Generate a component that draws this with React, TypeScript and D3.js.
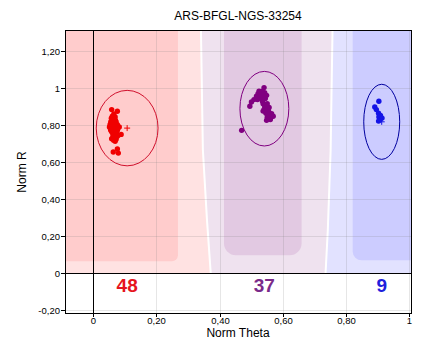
import React, { useEffect, useRef } from "react";
import * as d3 from "d3";

const title = "ARS-BFGL-NGS-33254";
const xLabel = "Norm Theta";
const yLabel = "Norm R";
const xTicks = [0, 0.2, 0.4, 0.6, 0.8, 1];
const yTicks = [-0.2, 0, 0.2, 0.4, 0.6, 0.8, 1, 1.2];

// samples as [theta, R]
const aaPoints: [number, number][] = [
  [0.058, 0.885], [0.076, 0.876], [0.060, 0.849], [0.066, 0.831], [0.055, 0.818],
  [0.072, 0.818], [0.053, 0.805], [0.063, 0.804], [0.076, 0.804], [0.082, 0.791],
  [0.051, 0.791], [0.061, 0.787], [0.071, 0.787], [0.055, 0.773], [0.065, 0.773],
  [0.076, 0.773], [0.061, 0.758], [0.071, 0.758], [0.088, 0.751], [0.079, 0.746],
  [0.058, 0.728], [0.069, 0.714], [0.064, 0.720], [0.063, 0.656], [0.076, 0.672],
  [0.079, 0.650], [0.057, 0.838], [0.064, 0.842], [0.070, 0.826], [0.059, 0.812],
  [0.068, 0.810], [0.074, 0.797], [0.056, 0.798], [0.066, 0.796], [0.060, 0.780],
  [0.069, 0.778], [0.073, 0.765], [0.058, 0.765], [0.066, 0.752], [0.075, 0.740],
  [0.062, 0.742], [0.067, 0.733], [0.072, 0.725], [0.054, 0.783], [0.078, 0.785],
  [0.062, 0.825], [0.069, 0.845], [0.065, 0.862],
];
const abPoints: [number, number][] = [
  [0.541, 1.004], [0.525, 0.985], [0.533, 0.971], [0.522, 0.971], [0.543, 0.977],
  [0.528, 0.957], [0.540, 0.957], [0.549, 0.962], [0.517, 0.957], [0.509, 0.939],
  [0.501, 0.926], [0.496, 0.903], [0.538, 0.917], [0.551, 0.917], [0.543, 0.899],
  [0.554, 0.885], [0.538, 0.877], [0.547, 0.866], [0.565, 0.863], [0.559, 0.854],
  [0.570, 0.849], [0.551, 0.842], [0.561, 0.831], [0.549, 0.827], [0.470, 0.773],
  [0.535, 0.985], [0.530, 0.945], [0.545, 0.945], [0.520, 0.940], [0.536, 0.930],
  [0.548, 0.905], [0.557, 0.897], [0.545, 0.885], [0.556, 0.872], [0.562, 0.845],
  [0.553, 0.855], [0.530, 0.963],
];
const bbPoints: [number, number][] = [
  [0.905, 0.930], [0.892, 0.899], [0.897, 0.885], [0.904, 0.866], [0.910, 0.854],
  [0.905, 0.845], [0.909, 0.831], [0.915, 0.839], [0.904, 0.823],
];

const clusterCounts = [48, 37, 9];
const clusterTheta = [0.107, 0.542, 0.914];
const clusterR = [0.785, 0.89, 0.819];
const clusterThetaSpread = [0.098, 0.0775, 0.057];
const clusterRSpread = [0.204, 0.2016, 0.203];

// genotype region borders, top to bottom, [theta, R]
const splitAaAb: [number, number][] = [[0.341, 1.31], [0.347, 0.67], [0.36, 0.29], [0.372, 0]];
const splitAbBb: [number, number][] = [[0.758, 1.31], [0.752, 0.66], [0.743, 0.23], [0.736, 0]];

// dense part of each region
const coreTheta0 = [-0.2, 0.414, 0.822];
const coreTheta1 = [0.268, 0.66, 1.2];
const coreRBottom = [0.065, 0.097, 0.07];

const pointColors = ["#f00000", "#800080", "#1414e6"];
const ellipseColors = ["#d0102c", "#800080", "#0000a0"];
const countColors = ["#e6141e", "#7a2a8a", "#2020dc"];
const outerFills = ["#ffe2e2", "#efe2ef", "#e2e2ff"];
const coreFills = ["#ffcccc", "#e2c9e2", "#ccccff"];
const coreCorner = [6, 12, 9];

const font = "'Liberation Sans', Arial, sans-serif";
const fmt = (v: number) => (Number.isInteger(v) ? String(v) : v.toFixed(2).replace(".", ","));

export default function App() {
  const svgRef = useRef<SVGSVGElement>(null);

  useEffect(() => {
    const svg = d3.select(svgRef.current);
    svg.selectAll("*").remove();

    const x = d3.scaleLinear().domain([-0.09, 1.01]).range([65, 412]);
    const y = d3.scaleLinear().domain([-0.22, 1.31]).range([314, 31]);
    const [t0, t1] = x.domain();
    const [, r1] = y.domain();
    const px = (v: number) => Math.round(x(v)) + 0.5;
    const py = (v: number) => Math.round(y(v)) + 0.5;

    svg.append("defs").append("clipPath").attr("id", "plot-clip")
      .append("rect").attr("x", 65).attr("y", 31).attr("width", 347).attr("height", 283);

    const plot = svg.append("g").attr("clip-path", "url(#plot-clip)");

    const poly = d3.line<[number, number]>().x((d) => x(d[0])).y((d) => y(d[1]));
    const zones: [number, number][][] = [
      [[t0, r1], ...splitAaAb, [t0, 0]],
      [...splitAaAb, ...splitAbBb.slice().reverse()],
      [...splitAbBb, [t1, 0], [t1, r1]],
    ];
    zones.forEach((z, i) => {
      plot.append("path").attr("d", poly(z) + "Z").attr("fill", outerFills[i]);
    });

    coreFills.forEach((c, i) => {
      const top = y(r1) - 30;
      plot.append("rect")
        .attr("x", x(coreTheta0[i]))
        .attr("width", x(coreTheta1[i]) - x(coreTheta0[i]))
        .attr("y", top)
        .attr("height", y(coreRBottom[i]) - top)
        .attr("rx", coreCorner[i])
        .attr("fill", c);
    });

    [splitAaAb, splitAbBb].forEach((s) => {
      plot.append("path").attr("d", poly(s)).attr("fill", "none")
        .attr("stroke", "#fff").attr("stroke-width", 2);
    });

    // grid
    xTicks.forEach((t) => {
      plot.append("line").attr("x1", px(t)).attr("x2", px(t)).attr("y1", 31).attr("y2", 314)
        .attr("stroke", "rgba(130,130,130,0.2)");
    });
    yTicks.forEach((t) => {
      plot.append("line").attr("y1", py(t)).attr("y2", py(t)).attr("x1", 65).attr("x2", 412)
        .attr("stroke", "rgba(130,130,130,0.2)");
    });

    plot.append("line").attr("x1", px(0)).attr("x2", px(0)).attr("y1", 31).attr("y2", 314).attr("stroke", "#000");
    plot.append("line").attr("y1", py(0)).attr("y2", py(0)).attr("x1", 65).attr("x2", 412).attr("stroke", "#000");

    // clusters
    [aaPoints, abPoints, bbPoints].forEach((pts, i) => {
      const cx = x(clusterTheta[i]);
      const cy = y(clusterR[i]);
      plot.append("ellipse")
        .attr("cx", cx).attr("cy", cy)
        .attr("rx", x(clusterTheta[i] + clusterThetaSpread[i]) - cx)
        .attr("ry", cy - y(clusterR[i] + clusterRSpread[i]))
        .attr("fill", "none").attr("stroke", ellipseColors[i]);

      plot.selectAll(null).data(pts).enter().append("circle")
        .attr("cx", (d) => x(d[0])).attr("cy", (d) => y(d[1]))
        .attr("r", 2.7).attr("fill", pointColors[i]);

      plot.append("path")
        .attr("d", `M${cx - 3},${cy}H${cx + 3}M${cx},${cy - 3}V${cy + 3}`)
        .attr("stroke", pointColors[i]).attr("fill", "none");

      svg.append("text")
        .attr("x", cx).attr("y", y(-0.065))
        .attr("text-anchor", "middle").attr("dominant-baseline", "central")
        .attr("font-family", font).attr("font-size", 19).attr("font-weight", "bold")
        .attr("fill", countColors[i])
        .text(clusterCounts[i]);
    });

    // frame + ticks
    svg.append("rect").attr("x", 65.5).attr("y", 30.5).attr("width", 346).attr("height", 283)
      .attr("fill", "none").attr("stroke", "#000");

    yTicks.forEach((t) => {
      svg.append("line").attr("x1", 61).attr("x2", 65).attr("y1", py(t)).attr("y2", py(t)).attr("stroke", "#000");
      svg.append("text").attr("x", 60).attr("y", py(t)).attr("dy", "0.35em")
        .attr("text-anchor", "end").attr("font-family", font).attr("font-size", 9.5)
        .text(fmt(t));
    });
    xTicks.forEach((t) => {
      svg.append("line").attr("x1", px(t)).attr("x2", px(t)).attr("y1", 314).attr("y2", 317).attr("stroke", "#000");
      svg.append("text").attr("x", px(t)).attr("y", 324)
        .attr("text-anchor", "middle").attr("font-family", font).attr("font-size", 9.5)
        .text(fmt(t));
    });

    svg.append("text").attr("x", 238).attr("y", 20).attr("text-anchor", "middle")
      .attr("font-family", font).attr("font-size", 12).text(title);
    svg.append("text").attr("x", 238).attr("y", 337).attr("text-anchor", "middle")
      .attr("font-family", font).attr("font-size", 12).text(xLabel);
    svg.append("text").attr("transform", "translate(26,172) rotate(-90)").attr("text-anchor", "middle")
      .attr("font-family", font).attr("font-size", 12).text(yLabel);
  }, []);

  return (
    <svg
      ref={svgRef}
      width={436}
      height={352}
      style={{ position: "absolute", left: 0, top: 0, background: "#fff" }}
    />
  );
}
